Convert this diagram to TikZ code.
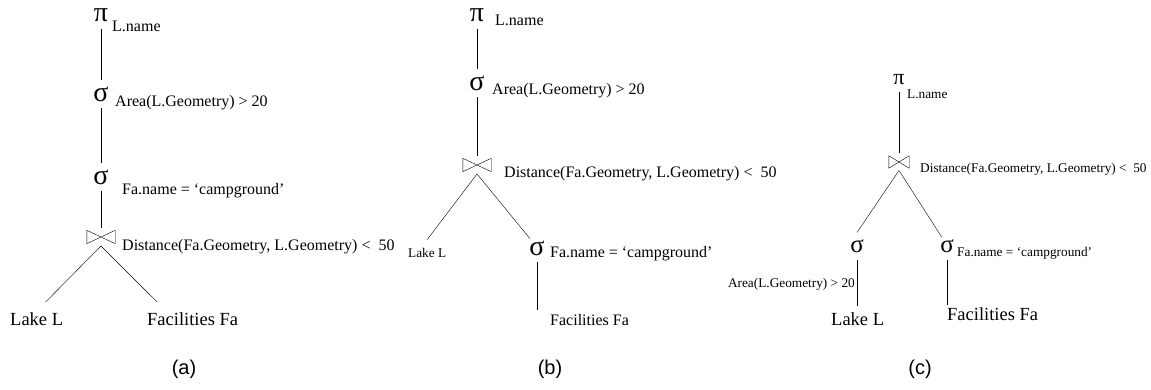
\documentclass[tikz,border=0pt]{standalone}
\usepackage{fontspec}
\setmainfont{Liberation Serif}
\newfontfamily\capfont{Liberation Sans}

\begin{document}
\begin{tikzpicture}[x=1pt,y=-1pt,
  op/.style={inner sep=0pt,outer sep=7pt,font=\fontsize{28}{28}\selectfont},
  sop/.style={op,font=\fontsize{25}{25}\selectfont},
  % join symbol: two outlined triangles meeting in the middle
  jn/.style={inner sep=0pt,outer sep=2pt,minimum width=29pt,minimum height=14pt,
    path picture={\draw ([shift={(.3pt,-.3pt)}]path picture bounding box.north west)
      -- ([shift={(.3pt,.3pt)}]path picture bounding box.south west)
      -- ([shift={(-.3pt,-.3pt)}]path picture bounding box.north east)
      -- ([shift={(-.3pt,.3pt)}]path picture bounding box.south east) -- cycle;}},
  sjn/.style={jn,minimum width=21pt,minimum height=13pt},
  cond/.style={inner sep=0pt,anchor=base west,font=\fontsize{16}{18}\selectfont},
  scond/.style={cond,font=\fontsize{13.3}{15}\selectfont},
  leaf/.style={inner sep=0pt,anchor=base west,font=\fontsize{18.5}{20}\selectfont},
  tag/.style={font=\capfont\fontsize{20}{22}\selectfont}]
\useasboundingbox (0,0) rectangle (1151,390);

% (a): both selections above the join
\node[op] (pa) at (101,15) {π};
\node[cond] (pal) at (112,32) {L.name};
\node[op] (sa1) at (101,94) {σ};
\node[cond] (sa1l) at (115,107) {Area(L.Geometry) > 20};
\node[op] (sa2) at (101,177) {σ};
\node[cond] (sa2l) at (122,195) {Fa.name = ‘campground’};
\node[jn] (ja) at (101,237) {};
\node[cond] (jal) at (122,251) {Distance(Fa.Geometry, L.Geometry) <~~50};
\node[leaf] (lka) at (10,325) {Lake L};
\node[leaf] (fca) at (147,325) {Facilities Fa};
\draw (pa) -- (sa1) -- (sa2) -- (ja);
\draw ([xshift=9pt,yshift=10pt]lka.north) -- (ja.south) -- ([xshift=10pt,yshift=10pt]fca.north west);
\node[tag] (ta) at (184,369) {(a)};

% (b): campground selection pushed below the join
\node[op] (pb) at (477,15) {π};
\node[cond] (pbl) at (495,26) {L.name};
\node[op] (sb1) at (477,83) {σ};
\node[cond] (sb1l) at (492,95) {Area(L.Geometry) > 20};
\node[jn] (jb) at (477,165) {};
\node[cond] (jbl) at (504,178) {Distance(Fa.Geometry, L.Geometry) <~~50};
\node[scond] (lkb) at (408,258) {Lake L};
\node[op] (sb2) at (537,248) {σ};
\node[cond] (sb2l) at (550,258) {Fa.name = ‘campground’};
\node[cond] (fcb) at (550,325) {Facilities Fa};
\draw (pb) -- (sb1) -- (jb);
\draw ([yshift=9pt]lkb.north) -- (jb.south) -- ([shift={(-7pt,-5pt)}]sb2.north);
\draw[shorten >=4pt] (sb2) -- (sb2 |- fcb.north);
\node[tag] (tb) at (550,369) {(b)};

% (c): both selections below the join
\node[sop,font=\fontsize{22}{22}\selectfont] (pc) at (899,80) {π};
\node[scond] (pcl) at (907,99) {L.name};
\node[sjn] (jc) at (899,162) {};
\node[scond] (jcl) at (920,173) {Distance(Fa.Geometry, L.Geometry) <~~50};
\node[sop] (sc1) at (857,246) {σ};
\node[scond,anchor=base east] (sc1l) at (855,287) {Area(L.Geometry) > 20};
\node[sop] (sc2) at (947,246) {σ};
\node[scond] (sc2l) at (957,256) {Fa.name = ‘campground’};
\node[leaf] (lkc) at (831,325) {Lake L};
\node[leaf] (fcc) at (947,320) {Facilities Fa};
\draw (pc) -- (jc);
\draw (sc1.north) -- (jc.south) -- ([shift={(-5pt,-5pt)}]sc2.north);
\draw[shorten >=6pt] (sc1) -- (sc1 |- lkc.north);
\draw[shorten >=2pt] (sc2) -- (sc2 |- fcc.north);
\node[tag] (tc) at (920,369) {(c)};
\end{tikzpicture}
\end{document}
